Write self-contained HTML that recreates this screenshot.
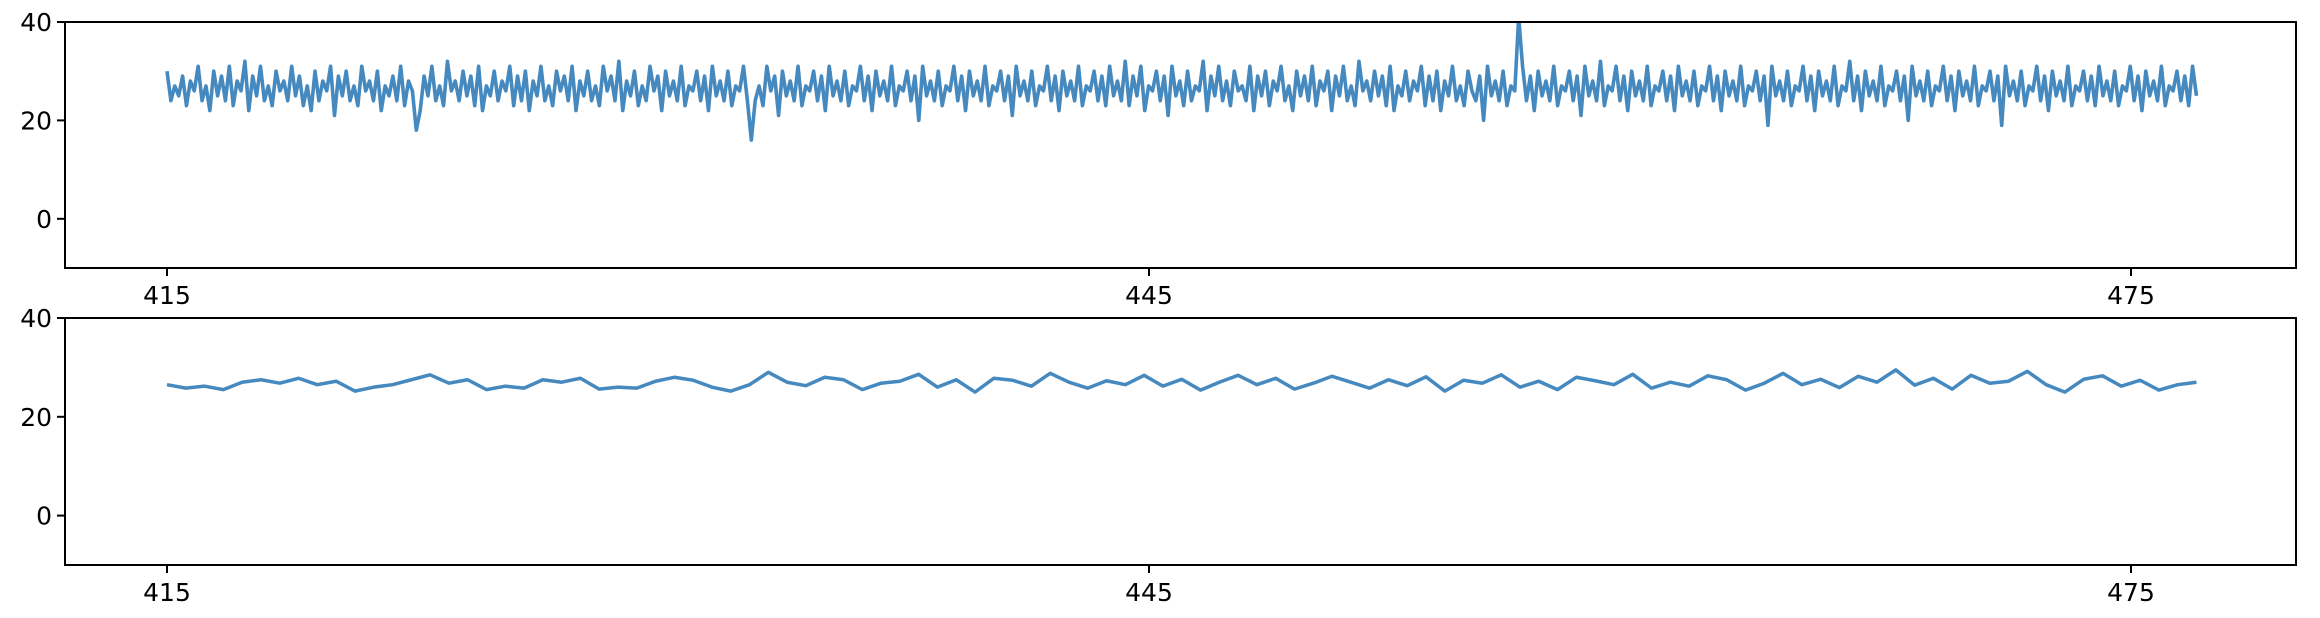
<!DOCTYPE html>
<html><head><meta charset="utf-8">
<style>
html,body{margin:0;padding:0;background:#fff;}
svg{display:block;font-family:"DejaVu Sans","Liberation Sans",sans-serif;}
</style></head>
<body>
<svg id="chart" width="2320" height="618" xmlns="http://www.w3.org/2000/svg"></svg>
<script>
const xTicks=[415,445,475];
const yTicks=[0,20,40];
const rawValues=[
30,24,27,25,29,23,28,26,31,24,27,22,30,25,29,24,31,23,28,26,32,22,29,25,31,24,27,23,30,26,28,24,31,25,29,23,27,22,30,24,28,26,31,21,29,25,30,24,27,23,31,26,28,24,30,22,27,25,29,24,31,23,28,26,
18,22,29,25,31,24,27,23,32,26,28,24,30,25,29,23,31,22,27,25,30,24,28,26,31,23,29,24,30,22,28,25,31,24,27,23,30,26,29,24,31,22,28,25,30,24,27,23,31,26,29,24,32,22,28,25,30,23,27,24,31,26,29,22,30,25,28,24,31,23,27,26,30,24,29,22,31,25,28,24,30,23,27,26,31,24,
16,24,27,23,31,26,29,21,30,25,28,24,31,23,27,26,30,24,29,22,31,25,28,24,30,23,27,26,31,24,29,22,30,25,28,24,31,23,27,26,30,24,29,20,31,25,28,24,30,23,27,26,31,24,29,22,30,25,28,24,31,23,27,26,30,24,29,21,31,25,28,24,30,23,27,26,31,24,29,22,30,25,28,24,31,23,27,26,30,24,29,23,31,25,
28,24,32,23,29,25,31,22,27,26,30,24,29,21,31,25,28,23,30,24,27,26,32,22,29,25,31,24,28,23,30,26,27,24,31,22,29,25,30,23,28,26,31,24,27,22,30,25,29,24,31,23,28,26,30,22,29,25,31,24,27,23,32,26,28,24,30,25,29,23,31,22,27,25,30,24,28,26,31,23,29,24,30,22,28,25,31,24,27,23,30,26,
24,29,20,31,25,28,24,30,23,27,26,41,31,24,29,22,30,25,28,24,31,23,27,26,30,24,29,21,31,25,28,24,32,23,27,26,31,24,29,22,30,25,28,24,31,23,27,26,30,24,29,22,31,25,28,24,30,23,27,26,31,24,29,22,30,25,28,24,31,23,27,26,30,24,29,19,31,25,28,24,30,23,27,26,31,24,29,22,30,25,28,24,
31,23,27,26,32,24,29,22,30,25,28,24,31,23,27,26,30,24,29,20,31,25,28,24,30,23,27,26,31,24,29,22,30,25,28,24,31,23,27,26,30,24,29,19,31,25,28,24,30,23,27,26,31,24,29,22,30,25,28,24,31,23,27,26,30,24,29,23,31,25,28,24,30,23,27,26,31,24,29,22,30,25,28,24,31,23,27,26,30,24,29,23,31,25];
const smoothValues=[26.5,25.8,26.2,25.5,27,27.5,26.8,27.8,26.5,27.2,25.2,26,26.5,27.5,28.5,26.8,27.5,25.5,26.2,25.8,27.5,27,27.8,25.6,26,25.8,27.2,28,27.4,26,25.2,26.5,29,27,26.3,28,27.5,25.5,26.8,27.2,28.6,26,27.5,25,27.8,27.4,26.2,28.8,27,25.8,27.3,26.5,28.4,26.2,27.6,25.4,27,28.4,26.5,27.8,25.6,26.8,28.2,27,25.8,27.5,26.3,28.1,25.2,27.4,26.8,28.5,26,27.2,25.5,28,27.3,26.5,28.6,25.8,27,26.2,28.3,27.5,25.4,26.8,28.8,26.5,27.6,25.9,28.2,27,29.5,26.4,27.8,25.6,28.4,26.8,27.2,29.2,26.5,25,27.6,28.3,26.2,27.4,25.4,26.5,27];
const xStart=415, xEnd=477;

const svg=document.getElementById('chart');
const NS='http://www.w3.org/2000/svg';
function mk(t,a,p){const e=document.createElementNS(NS,t);for(const k in a)e.setAttribute(k,a[k]);(p||svg).appendChild(e);return e;}
const L=65,R=2296;
const xs=v=>167+(v-415)*(2131-167)/60;
function panel(top,bottom,vals,name,lw){
  const ys=v=>bottom-(v+10)*(bottom-top)/50;
  const g=mk('g',{});
  
  
  const step=(xEnd-xStart)/(vals.length-1);
  const d=vals.map((v,i)=>(i?'L':'M')+xs(xStart+i*step).toFixed(2)+','+ys(v).toFixed(2)).join('');
  const cp=mk('clipPath',{id:'c'+name},g);
  mk('rect',{x:L,y:top,width:R-L,height:bottom-top},cp);
  const line=mk('path',{d:d,fill:'none',stroke:'#4689bf','stroke-width':lw,'stroke-linejoin':'round','clip-path':'url(#c'+name+')'},g);
  
  
  const fr=mk('rect',{x:L,y:top,width:R-L,height:bottom-top,fill:'none',stroke:'#000','stroke-width':2},g);
  
  
  yTicks.forEach(t=>{
    const y=ys(t);
    mk('line',{x1:L-8,x2:L,y1:y,y2:y,stroke:'#000','stroke-width':2},g);
    const tx=mk('text',{x:L-13,y:y+9,'text-anchor':'end','font-size':25},g);
    tx.textContent=t;
    
    
  });
  xTicks.forEach(t=>{
    const x=xs(t);
    mk('line',{x1:x,x2:x,y1:bottom,y2:bottom+8,stroke:'#000','stroke-width':2},g);
    const tx=mk('text',{x:x,y:bottom+36,'text-anchor':'middle','font-size':25},g);
    tx.textContent=t;
    
    
  });
}
panel(22,268,rawValues,'raw',3.6);
panel(318,565,smoothValues,'smoothed',3.5);
</script>
</body></html>
